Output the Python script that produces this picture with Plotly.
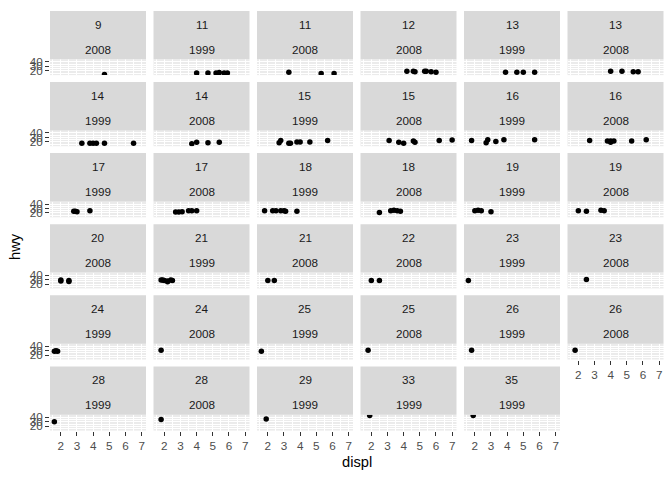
import plotly.graph_objects as go

# ---- data ----
panel_cty = [9, 11, 11, 12, 13, 13, 14, 14, 15, 15, 16, 16, 17, 17, 18, 18, 19, 19,
             20, 21, 21, 22, 23, 23, 24, 24, 25, 25, 26, 26, 28, 28, 29, 33, 35]
panel_year = [2008, 1999, 2008, 2008, 1999, 2008, 1999, 2008, 1999, 2008, 1999, 2008,
              1999, 2008, 1999, 2008, 1999, 2008, 2008, 1999, 2008, 2008, 1999, 2008,
              1999, 2008, 1999, 2008, 1999, 2008, 1999, 2008, 1999, 1999, 1999]
panel_displ = [
    [4.7],
    [4.0, 4.7, 5.2, 5.4, 5.7, 5.9],
    [3.3, 5.3, 6.1],
    [4.2, 4.6, 4.7, 5.3, 5.4, 5.7, 6.0],
    [3.9, 4.6, 5.0, 5.7],
    [4.0, 4.7, 5.4, 5.7],
    [3.3, 3.8, 4.0, 4.2, 4.7, 6.5],
    [3.7, 4.0, 4.7, 5.4],
    [2.7, 2.8, 3.3, 3.4, 3.8, 4.0, 4.6, 5.7],
    [3.1, 3.7, 4.0, 4.6, 4.7, 6.2, 7.0],
    [1.8, 2.7, 2.8, 3.3, 3.8, 5.7],
    [2.7, 3.8, 4.0, 4.2, 4.0, 5.3, 6.2],
    [2.8, 2.9, 3.0, 3.8],
    [2.7, 2.9, 3.1, 3.5, 3.7, 4.0],
    [1.8, 2.3, 2.5, 2.8, 3.0, 3.1, 3.8],
    [2.5, 3.2, 3.4, 3.6, 3.8],
    [2.0, 2.2, 2.4, 3.0],
    [2.0, 2.5, 3.4, 3.6],
    [2.0, 2.0, 2.5, 2.5],
    [1.8, 1.9, 2.0, 2.2, 2.4, 2.5, 2.2],
    [2.0, 2.4],
    [2.0, 2.5],
    [1.6],
    [2.5],
    [1.6, 1.7, 1.8],
    [1.8],
    [1.6],
    [1.8],
    [1.8],
    [1.8],
    [1.6],
    [1.8],
    [1.9],
    [1.9],
    [1.9],
]
panel_hwy = [
    [12],
    [15, 15, 15, 16, 15, 15],
    [17, 14, 14],
    [19, 19, 18, 19, 19, 18, 17],
    [17, 17, 17, 17],
    [19, 19, 18, 18],
    [17, 17, 17, 17, 17, 17],
    [16, 19, 18, 19],
    [18, 23, 17, 17, 20, 20, 20, 23],
    [23, 19, 17, 22, 19, 23, 24],
    [23, 18, 25, 21, 25, 25],
    [23, 22, 22, 22, 19, 22, 25],
    [24, 24, 23, 25],
    [22, 22, 23, 25, 25, 25],
    [25, 25, 25, 25, 25, 24, 24],
    [21, 25, 26, 25, 24],
    [25, 26, 25, 23],
    [25, 24, 26, 25],
    [27, 29, 26, 28],
    [29, 29, 28, 27, 29, 28, 25],
    [28, 28],
    [28, 28],
    [28],
    [30],
    [29, 30, 29],
    [31],
    [29],
    [31],
    [31],
    [31],
    [30],
    [35],
    [36],
    [44],
    [44],
]
x_ticks = [2, 3, 4, 5, 6, 7]
x_minor = [1.5, 2.5, 3.5, 4.5, 5.5, 6.5]
y_ticks = [20, 30, 40]
y_minor = [15, 25, 35, 45]
x_title = "displ"
y_title = "hwy"

# ---- layout ----
W, H = 672, 480
NCOL = 6
FONT = "Liberation Sans, Arial, sans-serif"
xr = [1.33, 7.27]
yr = [10.4, 45.6]

fig = go.Figure()
layout = dict(width=W, height=H, margin=dict(l=0, r=0, t=0, b=0),
              paper_bgcolor="white", plot_bgcolor="#EBEBEB", showlegend=False)
shapes, annotations = [], []
n = len(panel_cty)

for k in range(n):
    r, c = divmod(k, NCOL)
    left = 50 + 103.5 * c
    right = left + 96
    top = 7 + 72 * r
    sb = top + 49
    pb = top + 65
    idx = k + 1
    sfx = "" if idx == 1 else str(idx)
    fig.add_trace(go.Scatter(
        x=panel_displ[k], y=panel_hwy[k], mode="markers",
        marker=dict(color="black", size=5.5, line=dict(width=0)),
        xaxis="x" + sfx, yaxis="y" + sfx, hoverinfo="skip", cliponaxis=True))
    show_x = (k + NCOL >= n)
    show_y = (c == 0)
    tickfont = dict(family=FONT, size=11.7, color="#4D4D4D")
    layout["xaxis" + sfx] = dict(
        domain=[left / W, right / W], range=xr, anchor="y" + sfx,
        tickmode="array", tickvals=x_ticks, showticklabels=show_x,
        ticks="outside" if show_x else "", ticklen=4, tickwidth=1.07, tickcolor="#333333",
        showgrid=True, gridcolor="white", gridwidth=1.07,
        minor=dict(tickmode="array", tickvals=x_minor, showgrid=True,
                   gridcolor="white", gridwidth=0.53, ticks=""),
        zeroline=False, showline=False, tickfont=tickfont, fixedrange=True)
    layout["yaxis" + sfx] = dict(
        domain=[1 - pb / H, 1 - sb / H], range=yr, anchor="x" + sfx,
        tickmode="array", tickvals=y_ticks, showticklabels=show_y,
        ticks="outside" if show_y else "", ticklen=4, tickwidth=1.07, tickcolor="#333333",
        showgrid=True, gridcolor="white", gridwidth=1.07,
        minor=dict(tickmode="array", tickvals=y_minor, showgrid=True,
                   gridcolor="white", gridwidth=0.53, ticks=""),
        zeroline=False, showline=False, tickfont=tickfont, fixedrange=True)
    shapes.append(dict(type="rect", xref="paper", yref="paper",
                       x0=left / W, x1=right / W, y0=1 - sb / H, y1=1 - top / H,
                       fillcolor="#D9D9D9", line=dict(width=0), layer="above"))
    cx = (left + right) / 2 / W
    for txt, dy in ((str(panel_cty[k]), 13.7), (str(panel_year[k]), 38.7)):
        annotations.append(dict(text=txt, x=cx, y=1 - (top + dy) / H,
                                xref="paper", yref="paper", showarrow=False,
                                xanchor="center", yanchor="middle",
                                font=dict(family=FONT, size=11.7, color="#1A1A1A")))

annotations.append(dict(text=x_title, x=357 / W, y=1 - 464 / H, xref="paper", yref="paper",
                        showarrow=False, xanchor="center", yanchor="middle",
                        font=dict(family=FONT, size=14.7, color="black")))
annotations.append(dict(text=y_title, x=15 / W, y=1 - 246 / H, xref="paper", yref="paper",
                        showarrow=False, xanchor="center", yanchor="middle", textangle=-90,
                        font=dict(family=FONT, size=14.7, color="black")))

layout["shapes"] = shapes
layout["annotations"] = annotations
fig.update_layout(**layout)
fig.write_html("out.html")
